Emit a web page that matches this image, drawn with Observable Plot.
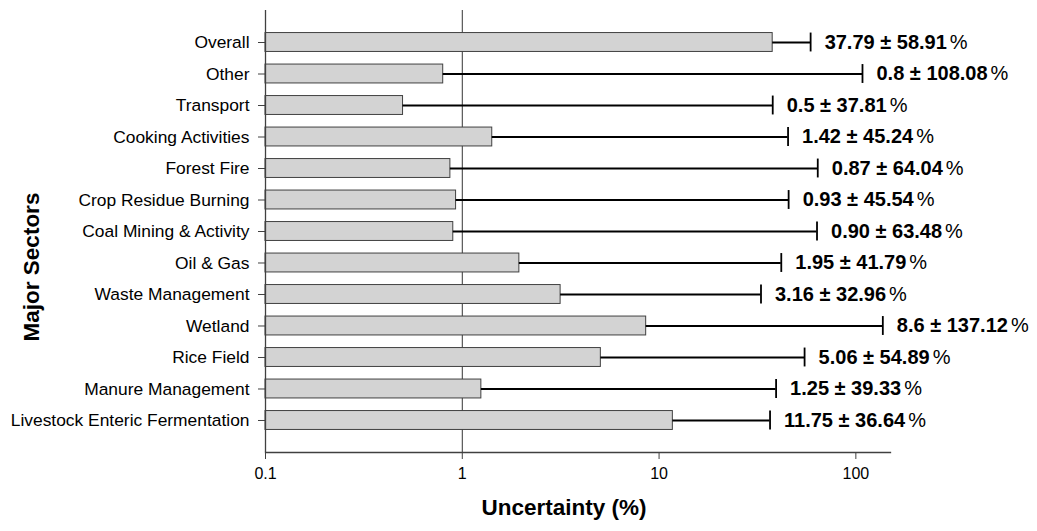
<!DOCTYPE html>
<html>
<head>
<meta charset="utf-8">
<script src="https://cdn.jsdelivr.net/npm/d3@7"></script>
<script src="https://cdn.jsdelivr.net/npm/@observablehq/plot@0.6"></script>
<style>
  html, body { margin: 0; padding: 0; background: #fff; }
  #chart { width: 1037px; height: 531px; }
</style>
</head>
<body>
<div id="chart"></div>
<script>
const sectors = [
  "Overall", "Other", "Transport", "Cooking Activities", "Forest Fire",
  "Crop Residue Burning", "Coal Mining & Activity", "Oil & Gas",
  "Waste Management", "Wetland", "Rice Field", "Manure Management",
  "Livestock Enteric Fermentation"
];
const valueText = ["37.79", "0.8", "0.5", "1.42", "0.87", "0.93", "0.90", "1.95", "3.16", "8.6", "5.06", "1.25", "11.75"];
const uncText = ["58.91", "108.08", "37.81", "45.24", "64.04", "45.54", "63.48", "41.79", "32.96", "137.12", "54.89", "39.33", "36.64"];
const xTicks = [0.1, 1, 10, 100];

const data = sectors.map((s, i) => ({
  sector: s,
  value: +valueText[i],
  unc: +uncText[i],
  label: valueText[i] + " \u00b1 " + uncText[i]
}));

const font = "'Liberation Sans', Arial, sans-serif";

const plot = Plot.plot({
  width: 1037,
  height: 531,
  marginLeft: 265,
  marginRight: 147,
  marginTop: 10,
  marginBottom: 79,
  style: { fontFamily: font, background: "#fff", color: "#000" },
  x: { type: "log", domain: [0.1, 150] },
  y: { domain: sectors, paddingInner: 0.4, paddingOuter: 0.716, round: false },
  marks: [
    Plot.ruleX([1], { stroke: "#333", strokeWidth: 1 }),
    Plot.barX(data, { x1: 0.1, x2: "value", y: "sector", fill: "#d3d3d3", stroke: "#404040", strokeWidth: 1 }),
    Plot.ruleY(data, { x1: "value", x2: "unc", y: "sector", stroke: "#000", strokeWidth: 1.8 }),
    Plot.tickX(data, { x: "unc", y: "sector", stroke: "#000", strokeWidth: 1.8 }),
    Plot.text(data, { x: "unc", y: "sector", text: "label", textAnchor: "start", dx: 14, fontWeight: "bold", fontSize: 20, fill: "#000" }),
    Plot.ruleX([0.1], { stroke: "#404040", strokeWidth: 1.3 }),
    Plot.frame({ anchor: "bottom", stroke: "#404040", strokeWidth: 1.3 }),
    Plot.axisX({ ticks: xTicks, tickFormat: d => String(d), tickSize: 7, tickPadding: 8, label: null, fontSize: 16, stroke: "#404040" }),
    Plot.axisY({ tickSize: 7, tickPadding: 9, label: null, fontSize: 17.4, stroke: "#404040" })
  ]
});

document.getElementById("chart").appendChild(plot);

const svg = d3.select(plot);
svg.selectAll('g[aria-label="text"] text').each(function () {
  d3.select(this).append("tspan").attr("font-weight", "normal").attr("dx", 3).text("%");
});
svg.append("text")
  .attr("x", 564).attr("y", 515)
  .attr("text-anchor", "middle")
  .attr("font-family", font).attr("font-weight", "bold").attr("font-size", 22.5)
  .attr("fill", "#000")
  .text("Uncertainty (%)");
svg.append("text")
  .attr("transform", "translate(39,267) rotate(-90)")
  .attr("text-anchor", "middle")
  .attr("font-family", font).attr("font-weight", "bold").attr("font-size", 22.5)
  .attr("fill", "#000")
  .text("Major Sectors");
</script>
</body>
</html>
